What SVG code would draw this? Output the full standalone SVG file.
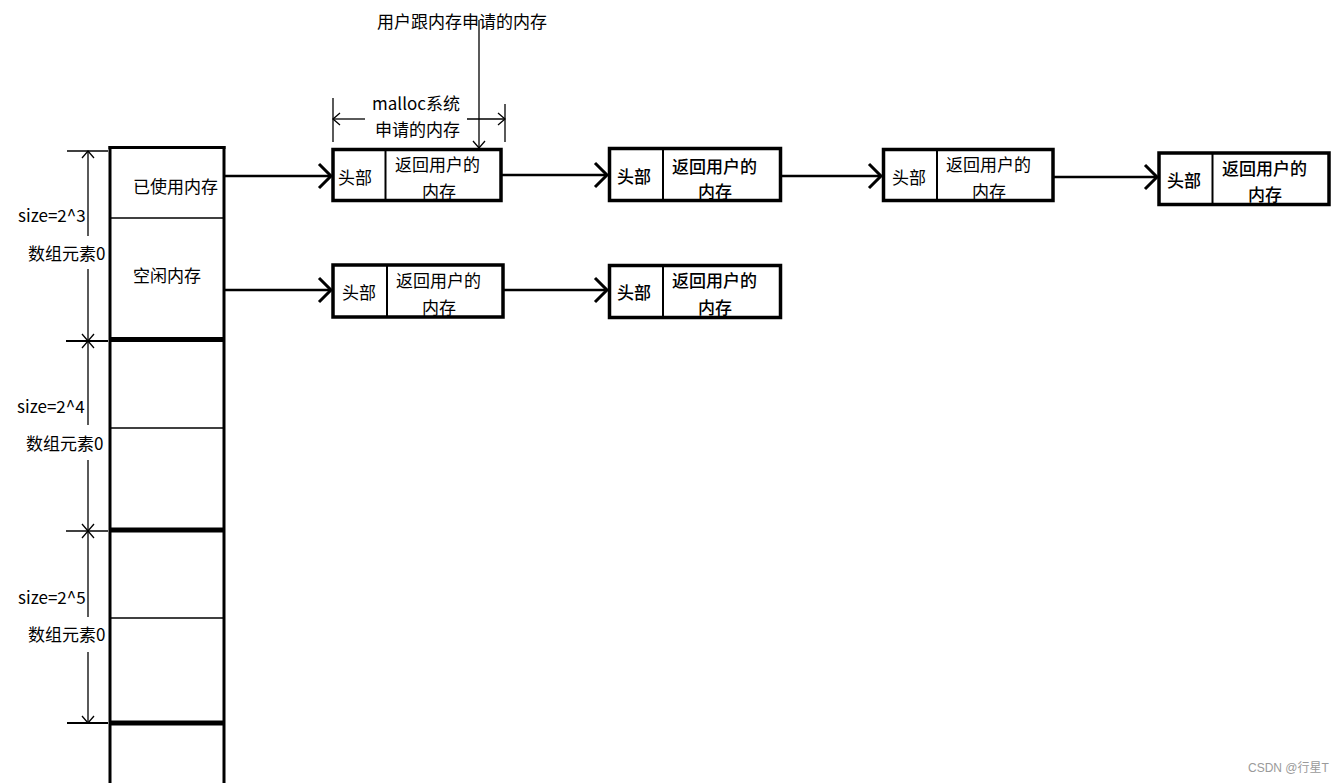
<svg xmlns="http://www.w3.org/2000/svg" width="1344" height="783" viewBox="0 0 1344 783">
<style>
text{font-family:"Noto Sans CJK SC","Noto Sans",sans-serif;font-size:17px;fill:#000}
.b{font-weight:500}
.box{fill:#fff;stroke:#000;stroke-width:3.5}
.div{stroke:#000;stroke-width:2}
.con{stroke:#000;stroke-width:2.7;fill:none}
.thin{stroke:#000;stroke-width:1.3;fill:none}
.wm{font-size:12px;fill:#9a9a9a;font-family:"Liberation Sans","Noto Sans CJK SC",sans-serif}
</style>
<defs>
<marker id="big" markerUnits="userSpaceOnUse" viewBox="0 0 12 24" refX="12" refY="12" markerWidth="12" markerHeight="24" orient="auto" overflow="visible">
<path d="M0,0 L12,12 L0,24" fill="none" stroke="#000" stroke-width="3"/>
</marker>
<marker id="sm" markerUnits="userSpaceOnUse" viewBox="0 0 7 12" refX="7" refY="6" markerWidth="7" markerHeight="12" orient="auto-start-reverse" overflow="visible">
<path d="M0,0 L7,6 L0,12" fill="none" stroke="#000" stroke-width="1.3"/>
</marker>
</defs>
<rect width="1344" height="783" fill="#fff"/>

<g id="array">
<line x1="110" y1="146" x2="110" y2="783" stroke="#000" stroke-width="3"/>
<line x1="224" y1="146" x2="224" y2="783" stroke="#000" stroke-width="3"/>
<line x1="108.5" y1="147.5" x2="225.5" y2="147.5" stroke="#000" stroke-width="3"/>
<line x1="110" y1="218" x2="224" y2="218" stroke="#000" stroke-width="1.5"/>
<line x1="110" y1="339.5" x2="224" y2="339.5" stroke="#000" stroke-width="5"/>
<line x1="110" y1="428" x2="224" y2="428" stroke="#000" stroke-width="1.5"/>
<line x1="110" y1="530" x2="224" y2="530" stroke="#000" stroke-width="5"/>
<line x1="110" y1="618" x2="224" y2="618" stroke="#000" stroke-width="1.5"/>
<line x1="110" y1="723" x2="224" y2="723" stroke="#000" stroke-width="5"/>
<text x="133" y="193">已使用内存</text>
<text x="133" y="282">空闲内存</text>
</g>

<g id="dims">
<line class="thin" x1="67" y1="151" x2="108" y2="151"/>
<line x1="66" y1="341" x2="108" y2="341" stroke="#000" stroke-width="2"/>
<line x1="66" y1="531" x2="108" y2="531" stroke="#000" stroke-width="1.5"/>
<line x1="67" y1="723" x2="108" y2="723" stroke="#000" stroke-width="2"/>
<line class="thin" x1="88" y1="151" x2="88" y2="236" marker-start="url(#sm)"/>
<line class="thin" x1="88" y1="269" x2="88" y2="341" marker-end="url(#sm)"/>
<line class="thin" x1="88" y1="341" x2="88" y2="425" marker-start="url(#sm)"/>
<line class="thin" x1="88" y1="460" x2="88" y2="531" marker-end="url(#sm)"/>
<line class="thin" x1="88" y1="531" x2="88" y2="617" marker-start="url(#sm)"/>
<line class="thin" x1="88" y1="652" x2="88" y2="723" marker-end="url(#sm)"/>
<text x="18" y="222">size=2^3</text>
<text x="28" y="260">数组元素0</text>
<text x="17" y="413">size=2^4</text>
<text x="26" y="450">数组元素0</text>
<text x="18" y="604">size=2^5</text>
<text x="28" y="641">数组元素0</text>
</g>

<g id="annot-user">
<text x="377" y="28">用户跟内存申请的内存</text>
<line class="thin" x1="479" y1="20" x2="479" y2="148" marker-end="url(#sm)"/>
</g>

<g id="annot-malloc">
<line class="thin" x1="333" y1="98" x2="333" y2="142"/>
<line class="thin" x1="505" y1="104" x2="505" y2="142"/>
<line class="thin" x1="333" y1="119" x2="365" y2="119" marker-start="url(#sm)"/>
<line class="thin" x1="467" y1="119" x2="505" y2="119" marker-end="url(#sm)"/>
<text x="372" y="110">malloc系统</text>
<text x="375" y="136">申请的内存</text>
</g>

<g id="connectors">
<line class="con" x1="225" y1="176" x2="331" y2="176" marker-end="url(#big)"/>
<line class="con" x1="225" y1="290" x2="331" y2="290" marker-end="url(#big)"/>
<line class="con" x1="502" y1="175" x2="607" y2="175" marker-end="url(#big)"/>
<line class="con" x1="781" y1="176" x2="881" y2="176" marker-end="url(#big)"/>
<line class="con" x1="1054" y1="177" x2="1157" y2="177" marker-end="url(#big)"/>
<line class="con" x1="504" y1="290" x2="607" y2="290" marker-end="url(#big)"/>
</g>

<g id="node1">
<rect class="box" x="333" y="149.5" width="168" height="51"/>
<line class="div" x1="385.5" y1="149.5" x2="385.5" y2="200.5"/>
<text x="338" y="184">头部</text>
<text x="395" y="171">返回用户的</text>
<text x="422" y="198">内存</text>
</g>

<g id="node2">
<rect class="box" x="609.5" y="148.5" width="171" height="52"/>
<line class="div" x1="663" y1="148.5" x2="663" y2="200.5"/>
<text class="b" x="617" y="183">头部</text>
<text class="b" x="672" y="173">返回用户的</text>
<text class="b" x="698" y="198">内存</text>
</g>

<g id="node3">
<rect class="box" x="883.5" y="149.5" width="169.5" height="51"/>
<line class="div" x1="937" y1="149.5" x2="937" y2="200.5"/>
<text x="892" y="184">头部</text>
<text x="946" y="171">返回用户的</text>
<text x="972" y="198">内存</text>
</g>

<g id="node4">
<rect class="box" x="1159" y="153" width="170" height="51.5"/>
<line class="div" x1="1212.5" y1="153" x2="1212.5" y2="204.5"/>
<text class="b" x="1167" y="187">头部</text>
<text class="b" x="1222" y="175">返回用户的</text>
<text class="b" x="1248" y="201">内存</text>
</g>

<g id="node5">
<rect class="box" x="333" y="265" width="170" height="52"/>
<line class="div" x1="387" y1="265" x2="387" y2="317"/>
<text x="342" y="299">头部</text>
<text x="396" y="287">返回用户的</text>
<text x="422" y="314">内存</text>
</g>

<g id="node6">
<rect class="box" x="609.5" y="265.5" width="171" height="52"/>
<line class="div" x1="663" y1="265.5" x2="663" y2="317.5"/>
<text class="b" x="617" y="299">头部</text>
<text class="b" x="672" y="287">返回用户的</text>
<text class="b" x="698" y="314">内存</text>
</g>

<text class="wm" x="1248" y="772">CSDN @行星T</text>
</svg>
